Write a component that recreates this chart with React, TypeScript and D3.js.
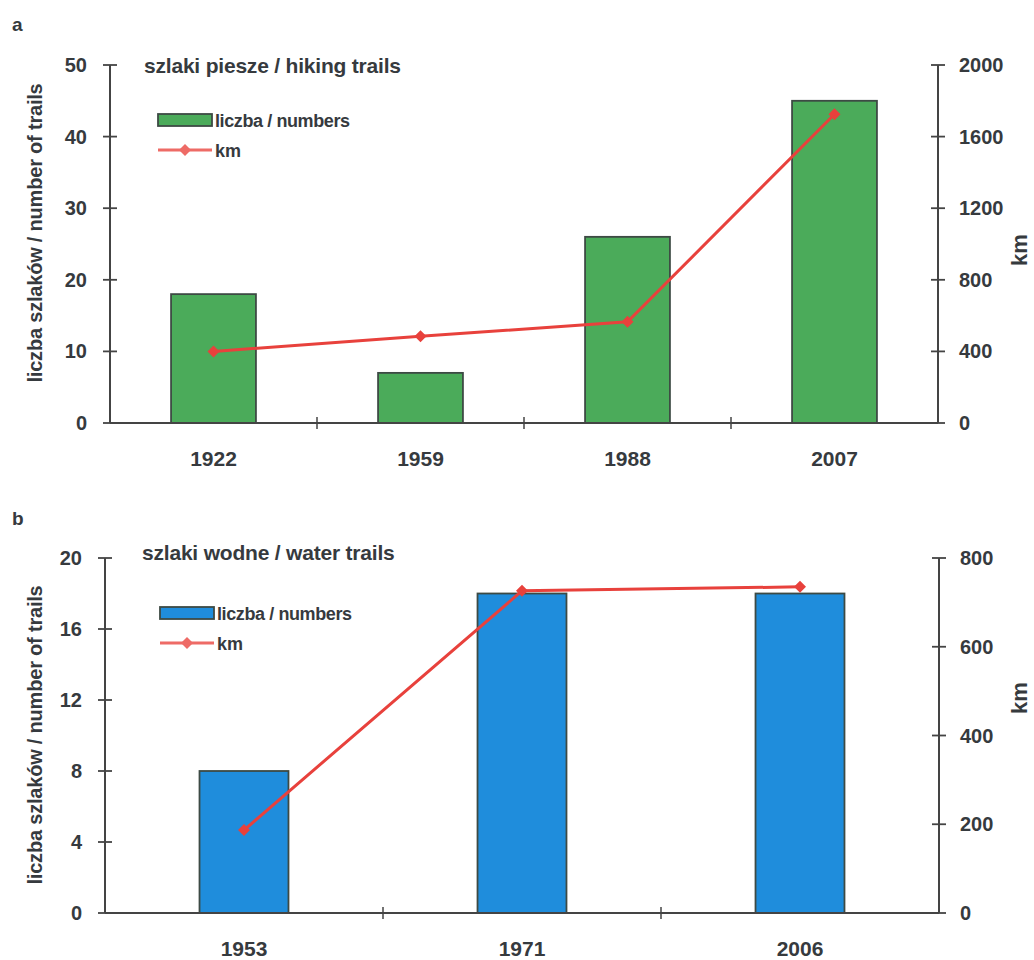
import React from "react";
import * as d3 from "d3";

const yearsA = ["1922", "1959", "1988", "2007"];
const countsA = [18, 7, 26, 45];
const kmA = [400, 485, 565, 1725];
const leftTicksA = [0, 10, 20, 30, 40, 50];
const rightTicksA = [0, 400, 800, 1200, 1600, 2000];

const yearsB = ["1953", "1971", "2006"];
const countsB = [8, 18, 18];
const kmB = [187, 726, 735];
const leftTicksB = [0, 4, 8, 12, 16, 20];
const rightTicksB = [0, 200, 400, 600, 800];

const FONT = "'Liberation Sans', Arial, sans-serif";
const TXT = "#363a3e";
const AX = "#444";

type PanelProps = {
  label: string;
  title: string;
  years: string[];
  counts: number[];
  km: number[];
  leftTicks: number[];
  rightTicks: number[];
  x0: number;
  x1: number;
  yTop: number;
  yBot: number;
  pad: number;
  barColor: string;
  labelY: number;
  titleY: number;
  legendY: number;
  titleX: number;
  legendX: number;
  yTitleY: number;
  kmTitleY: number;
};

function Panel(p: PanelProps) {
  const leftMax = p.leftTicks[p.leftTicks.length - 1];
  const rightMax = p.rightTicks[p.rightTicks.length - 1];
  const x = d3
    .scaleBand<string>()
    .domain(p.years)
    .range([p.x0, p.x1])
    .paddingInner(p.pad)
    .paddingOuter(p.pad / 2);
  const yL = d3.scaleLinear().domain([0, leftMax]).range([p.yBot, p.yTop]);
  const yR = d3.scaleLinear().domain([0, rightMax]).range([p.yBot, p.yTop]);
  const step = x.step();
  const line = d3
    .line<number>()
    .x((_, i) => (x(p.years[i]) as number) + x.bandwidth() / 2)
    .y((d) => yR(d));
  const diamond = (cx: number, cy: number, r: number) =>
    `M${cx},${cy - r}L${cx + r},${cy}L${cx},${cy + r}L${cx - r},${cy}Z`;
  return (
    <g>
      <text x={12} y={p.labelY} fontFamily={FONT} fontWeight="bold" fontSize={19} fill={TXT}>
        {p.label}
      </text>
      <text x={p.titleX} y={p.titleY} fontFamily={FONT} fontWeight="bold" fontSize={21} fill={TXT} letterSpacing={-0.2}>
        {p.title}
      </text>
      {/* bars */}
      {p.counts.map((c, i) => (
        <rect
          key={i}
          x={x(p.years[i])}
          y={yL(c)}
          width={x.bandwidth()}
          height={p.yBot - yL(c)}
          fill={p.barColor}
          stroke="#3d4a44"
          strokeWidth={1.8}
        />
      ))}
      {/* x axis */}
      <line x1={p.x0} x2={p.x1} y1={p.yBot} y2={p.yBot} stroke={AX} strokeWidth={2} />
      {p.years.slice(1).map((_, i) => (
        <line
          key={i}
          x1={p.x0 + step * (i + 1)}
          x2={p.x0 + step * (i + 1)}
          y1={p.yBot - 6}
          y2={p.yBot + 6}
          stroke={AX}
          strokeWidth={1.5}
        />
      ))}
      {p.years.map((yv) => (
        <text
          key={yv}
          x={(x(yv) as number) + x.bandwidth() / 2}
          y={p.yBot + 43}
          textAnchor="middle"
          fontFamily={FONT}
          fontWeight="bold"
          fontSize={21}
          fill={TXT}
        >
          {yv}
        </text>
      ))}
      {/* left axis */}
      <line x1={p.x0} x2={p.x0} y1={p.yTop} y2={p.yBot} stroke={AX} strokeWidth={2} />
      {p.leftTicks.map((t) => (
        <g key={t}>
          <line x1={p.x0 - 7} x2={p.x0 + 7} y1={yL(t)} y2={yL(t)} stroke={AX} strokeWidth={1.8} />
          <text
            x={p.x0 - 23}
            y={yL(t) + 7}
            textAnchor="end"
            fontFamily={FONT}
            fontWeight="bold"
            fontSize={20}
            fill={TXT}
          >
            {t}
          </text>
        </g>
      ))}
      {/* right axis */}
      <line x1={p.x1} x2={p.x1} y1={p.yTop} y2={p.yBot} stroke={AX} strokeWidth={2} />
      {p.rightTicks.map((t) => (
        <g key={t}>
          <line x1={p.x1 - 7} x2={p.x1 + 7} y1={yR(t)} y2={yR(t)} stroke={AX} strokeWidth={1.8} />
          <text
            x={p.x1 + 21}
            y={yR(t) + 7}
            textAnchor="start"
            fontFamily={FONT}
            fontWeight="bold"
            fontSize={20}
            fill={TXT}
          >
            {t}
          </text>
        </g>
      ))}
      {/* axis titles */}
      <text
        transform={`translate(42,${p.yTitleY}) rotate(-90)`}
        textAnchor="middle"
        fontFamily={FONT}
        fontWeight="bold"
        fontSize={20}
        fill={TXT}
        letterSpacing={-0.2}
      >
        liczba szlaków / number of trails
      </text>
      <text
        transform={`translate(1027,${p.kmTitleY}) rotate(-90)`}
        textAnchor="middle"
        fontFamily={FONT}
        fontWeight="bold"
        fontSize={22}
        fill={TXT}
      >
        km
      </text>
      {/* line */}
      <path d={line(p.km) || ""} fill="none" stroke="#e8413c" strokeWidth={3} />
      {p.km.map((k, i) => (
        <path
          key={i}
          d={diamond((x(p.years[i]) as number) + x.bandwidth() / 2, yR(k), 6)}
          fill="#e8413c"
        />
      ))}
      {/* legend */}
      <rect x={p.legendX} y={p.legendY - 6} width={54} height={12} fill={p.barColor} stroke="#3d4a44" strokeWidth={1.8} />
      <text x={p.legendX + 57} y={p.legendY + 7} fontFamily={FONT} fontWeight="bold" fontSize={18} fill={TXT} letterSpacing={-0.4}>
        liczba / numbers
      </text>
      <line x1={p.legendX} x2={p.legendX + 54} y1={p.legendY + 30} y2={p.legendY + 30} stroke="#ee6b66" strokeWidth={3} />
      <path d={diamond(p.legendX + 27, p.legendY + 30, 6)} fill="#ee6b66" />
      <text x={p.legendX + 57} y={p.legendY + 37} fontFamily={FONT} fontWeight="bold" fontSize={18} fill={TXT}>
        km
      </text>
    </g>
  );
}

export default function App() {
  return (
    <svg width={1034} height={960} style={{ display: "block", position: "absolute", left: 0, top: 0 }}>
      <rect width={1034} height={960} fill="#ffffff" />
      <Panel
        label="a"
        title="szlaki piesze / hiking trails"
        years={yearsA}
        counts={countsA}
        km={kmA}
        leftTicks={leftTicksA}
        rightTicks={rightTicksA}
        x0={110}
        x1={938}
        yTop={65}
        yBot={423}
        pad={0.59}
        barColor="#4bab5a"
        labelY={31}
        titleY={73}
        legendY={120}
        titleX={144}
        legendX={158}
        yTitleY={233}
        kmTitleY={250}
      />
      <Panel
        label="b"
        title="szlaki wodne / water trails"
        years={yearsB}
        counts={countsB}
        km={kmB}
        leftTicks={leftTicksB}
        rightTicks={rightTicksB}
        x0={105}
        x1={939}
        yTop={558}
        yBot={913}
        pad={0.68}
        barColor="#1f8ddc"
        labelY={525}
        titleY={560}
        legendY={613}
        titleX={142}
        legendX={160}
        yTitleY={735}
        kmTitleY={698}
      />
    </svg>
  );
}
